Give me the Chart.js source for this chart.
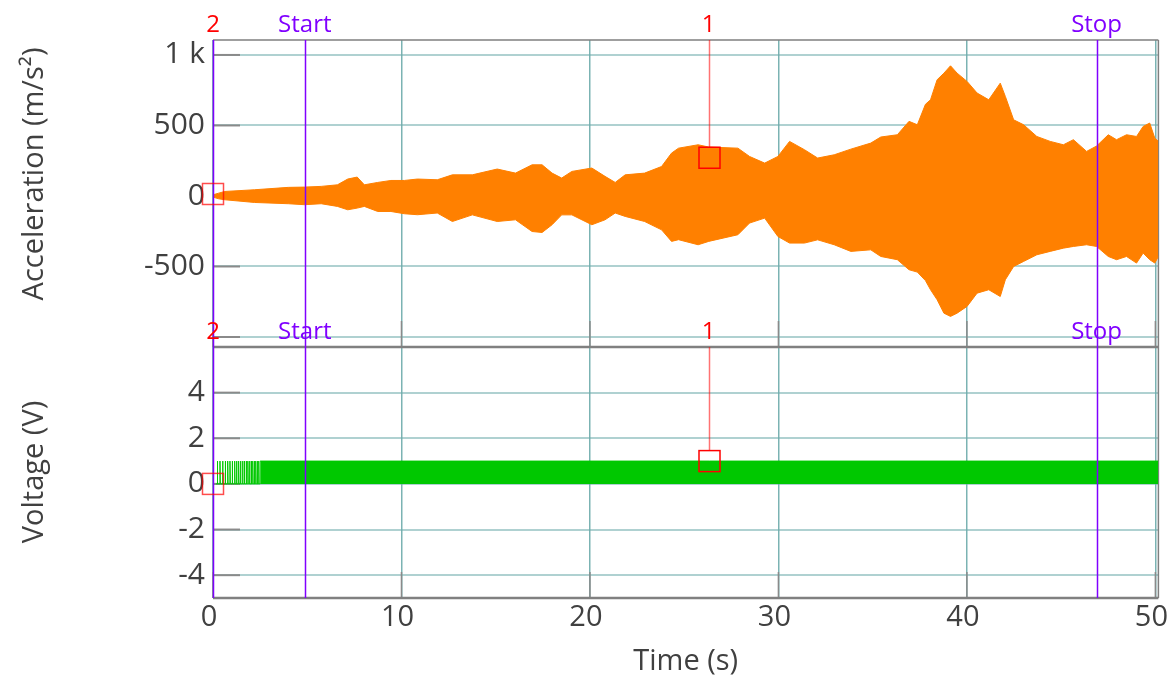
<!DOCTYPE html>
<html>
<head>
<meta charset="utf-8">
<script src="https://cdn.jsdelivr.net/npm/chart.js@4.4.1/dist/chart.umd.min.js"></script>
<style>
html,body{margin:0;padding:0;background:#fff;}
#wrap{position:relative;width:1174px;height:679px;}
</style>
</head>
<body>
<div id="wrap"><canvas id="c" width="1174" height="679"></canvas></div>
<script>
// Acceleration / Voltage vs time, two stacked panels with cursors
const FONT = "'Open Sans', 'Noto Sans', sans-serif";
const TXT = "#404040";
const ORANGE = "#ff8000";
const GREEN = "#00c800";
const PURPLE = "#8000ff";
const RED = "#ff0000";

// acceleration envelope (m/s^2)
const accTime  = [0, 0.3, 0.63, 2.2, 4.0, 4.86, 5.74, 6.6, 7.15, 7.65, 8.03, 8.74, 9.44, 10.15, 10.85, 11.9, 12.7, 13.76, 15.08, 16.05, 16.93, 17.46, 17.99, 18.5, 19.04, 20.1, 20.8, 21.34, 21.87, 22.9, 23.8, 24.33, 24.7, 25.74, 26.3, 27.85, 28.47, 29.27, 29.97, 30.59, 31.38, 32.08, 32.96, 33.84, 34.9, 35.43, 36.31, 36.93, 37.37, 37.8, 38.07, 38.42, 38.78, 39.13, 39.48, 40.01, 40.54, 41.16, 41.77, 42.04, 42.48, 43.01, 43.71, 44.42, 45.12, 45.65, 46.35, 46.88, 47.5, 47.94, 48.47, 49.0, 49.35, 49.7, 49.97, 50.16];
const accUpper = [8, 20, 32, 44, 61, 63, 68, 79, 120, 134, 79, 96, 110, 110, 120, 115, 150, 150, 191, 162, 221, 221, 162, 127, 174, 198, 139, 96, 150, 162, 209, 304, 339, 363, 347, 339, 280, 233, 280, 387, 328, 269, 292, 332, 375, 418, 434, 529, 505, 650, 682, 824, 871, 923, 871, 812, 730, 682, 800, 706, 540, 505, 422, 387, 363, 399, 316, 354, 434, 399, 434, 422, 493, 517, 410, 387];
const accLower = [-8, -20, -27, -46, -55, -62, -55, -74, -98, -86, -74, -110, -110, -126, -133, -121, -181, -134, -181, -169, -252, -259, -204, -134, -134, -204, -169, -121, -145, -181, -240, -322, -310, -346, -322, -275, -192, -157, -287, -334, -334, -311, -346, -393, -382, -429, -452, -523, -540, -600, -665, -736, -831, -854, -831, -783, -689, -665, -713, -594, -500, -464, -417, -393, -370, -358, -346, -358, -429, -452, -429, -476, -405, -452, -476, -429];

// voltage: single spikes at the start, then a dense 0..1 V band
const pulseTimes = [0.23, 0.37, 0.51, 0.65, 0.78, 0.90, 1.02, 1.15, 1.25, 1.36, 1.46, 1.57, 1.66, 1.76, 1.85, 1.94, 2.03, 2.11, 2.20, 2.27, 2.36, 2.43];
const bandTime = [2.5, 50.16];
const bandHigh = 1;
const bandLow = 0;

const xTicks = [0, 10, 20, 30, 40, 50];
const accTicks = [-1000, -500, 0, 500, 1000];
const voltTicks = [-4, -2, 0, 2, 4];

// cursors
const cursorStart = 4.87, cursorStop = 46.88;
const cursor1 = {t: 26.3, acc: 271, volt: 1};
const cursor2 = {t: 0.0, acc: 14, volt: 0};

const pulseData = [{x: 0.15, y: 0}];
pulseTimes.forEach(function(t){ pulseData.push({x:t,y:0},{x:t,y:1},{x:t+0.02,y:0}); });
pulseData.push({x: bandTime[0], y: 0});

function setTicks(list){ return function(s){ s.ticks = list.map(function(v){ return {value:v}; }); }; }

const overlay = {
  id: "overlay",
  beforeDatasetsDraw(chart){
    const ctx = chart.ctx, ca = chart.chartArea;
    const x = chart.scales.x, yA = chart.scales.yA, yV = chart.scales.yV;
    ctx.save();
    // inner tick marks
    ctx.strokeStyle = "#8a8a8a"; ctx.lineWidth = 2;
    [[yA, accTicks], [yV, voltTicks]].forEach(function(p){
      p[1].forEach(function(v){
        const py = p[0].getPixelForValue(v);
        ctx.beginPath(); ctx.moveTo(ca.left, py); ctx.lineTo(ca.left + 27, py); ctx.stroke();
      });
    });
    ctx.lineWidth = 1.5;
    xTicks.forEach(function(v){
      const px = x.getPixelForValue(v);
      [yA.bottom, yV.bottom].forEach(function(b){
        ctx.beginPath(); ctx.moveTo(px, b); ctx.lineTo(px, b - 26); ctx.stroke();
      });
    });
    // frame
    ctx.strokeStyle = "#808080"; ctx.lineWidth = 1.5;
    ctx.beginPath();
    ctx.moveTo(ca.left, ca.top); ctx.lineTo(ca.right, ca.top);
    ctx.moveTo(ca.right, ca.top); ctx.lineTo(ca.right, ca.bottom);
    ctx.stroke();
    ctx.lineWidth = 2.5;
    ctx.beginPath();
    ctx.moveTo(ca.left, yA.bottom); ctx.lineTo(ca.right, yA.bottom);
    ctx.moveTo(ca.left, ca.bottom); ctx.lineTo(ca.right, ca.bottom);
    ctx.stroke();
    ctx.restore();
  },
  afterDatasetsDraw(chart){
    const ctx = chart.ctx, ca = chart.chartArea;
    const x = chart.scales.x, yA = chart.scales.yA, yV = chart.scales.yV;
    ctx.save();
    // purple start/stop lines and left cursor line
    ctx.strokeStyle = PURPLE; ctx.lineWidth = 1.5;
    [cursor2.t, cursorStart, cursorStop].forEach(function(t){
      const px = Math.round(x.getPixelForValue(t)) + 0.5;
      ctx.beginPath(); ctx.moveTo(px, ca.top); ctx.lineTo(px, ca.bottom); ctx.stroke();
    });
    // cursor 1 stems
    const c1x = Math.round(x.getPixelForValue(cursor1.t)) + 0.5;
    const bh = 10.5;
    ctx.strokeStyle = "rgba(255,0,0,0.55)"; ctx.lineWidth = 1.5;
    ctx.beginPath();
    ctx.moveTo(c1x, yA.top); ctx.lineTo(c1x, yA.getPixelForValue(cursor1.acc) - bh);
    ctx.moveTo(c1x, yV.top); ctx.lineTo(c1x, yV.getPixelForValue(cursor1.volt) - bh);
    ctx.stroke();
    // boxes
    function box(px, py, col){
      ctx.strokeStyle = col; ctx.lineWidth = 1.5;
      ctx.strokeRect(px - bh, py - bh, bh * 2, bh * 2);
    }
    box(c1x, yA.getPixelForValue(cursor1.acc), RED);
    box(c1x, yV.getPixelForValue(cursor1.volt), RED);
    const c2x = x.getPixelForValue(cursor2.t);
    box(c2x, yA.getPixelForValue(cursor2.acc), "rgba(255,0,0,0.7)");
    box(c2x, yV.getPixelForValue(cursor2.volt), "rgba(255,0,0,0.7)");
    // cursor labels
    ctx.font = "24px " + FONT; ctx.textAlign = "center"; ctx.textBaseline = "middle";
    const labs = [["2", cursor2.t, RED], ["Start", cursorStart, PURPLE], ["1", cursor1.t, RED], ["Stop", cursorStop, PURPLE]];
    [yA.top - 15, yV.top - 15].forEach(function(ly){
      labs.forEach(function(l){
        ctx.fillStyle = l[2];
        ctx.fillText(l[0], x.getPixelForValue(l[1]), ly);
      });
    });
    // y axis titles
    ctx.fillStyle = TXT; ctx.font = "29px " + FONT;
    ctx.save(); ctx.translate(35, 174); ctx.rotate(-Math.PI / 2); ctx.fillText("Acceleration (m/s\u00b2)", 0, 0); ctx.restore();
    ctx.save(); ctx.translate(35, 472); ctx.rotate(-Math.PI / 2); ctx.fillText("Voltage (V)", 0, 0); ctx.restore();
    ctx.restore();
  }
};

const hGrid = {color: "rgba(110,172,172,0.55)", lineWidth: 2, drawTicks: false};

new Chart(document.getElementById("c"), {
  type: "line",
  data: {datasets: [
    {data: accTime.map(function(t,i){ return {x:t, y:accUpper[i]}; }), yAxisID: "yA", borderColor: ORANGE, backgroundColor: ORANGE, borderWidth: 1, pointRadius: 0, fill: "+1"},
    {data: accTime.map(function(t,i){ return {x:t, y:accLower[i]}; }), yAxisID: "yA", borderColor: ORANGE, borderWidth: 1, pointRadius: 0, fill: false},
    {data: bandTime.map(function(t){ return {x:t, y:bandHigh}; }), yAxisID: "yV", borderColor: GREEN, backgroundColor: GREEN, borderWidth: 1, pointRadius: 0, fill: {value: bandLow}},
    {data: pulseData, yAxisID: "yV", borderColor: GREEN, borderWidth: 1, pointRadius: 0, fill: false}
  ]},
  options: {
    responsive: false, animation: false, events: [],
    layout: {padding: {top: 40, right: 12, left: 0, bottom: 0}},
    plugins: {legend: {display: false}, tooltip: {enabled: false}},
    scales: {
      x: {
        type: "linear", min: 0, max: 50.16,
        afterBuildTicks: setTicks(xTicks),
        afterFit: function(s){ s.height = 81; },
        border: {display: false},
        grid: {color: "rgba(90,160,160,0.8)", lineWidth: 1.5, drawTicks: false},
        ticks: {color: TXT, font: {family: FONT, size: 29}, padding: 2, labelOffset: -4, maxRotation: 0, autoSkip: false},
        title: {display: true, text: "Time (s)", color: TXT, font: {family: FONT, size: 29}, padding: {top: 0, bottom: 0}}
      },
      yV: {
        type: "linear", position: "left", stack: "p", stackWeight: 251, min: -5, max: 6,
        afterBuildTicks: setTicks(voltTicks),
        afterFit: function(s){ s.width = 213; },
        border: {display: false},
        grid: hGrid,
        ticks: {color: TXT, font: {family: FONT, size: 30}, padding: 8, autoSkip: false}
      },
      yA: {
        type: "linear", position: "left", stack: "p", stackWeight: 307, min: -1071, max: 1106,
        afterBuildTicks: setTicks(accTicks),
        afterFit: function(s){ s.width = 213; },
        border: {display: false},
        grid: hGrid,
        ticks: {color: TXT, font: {family: FONT, size: 30}, padding: 8, autoSkip: false,
          callback: function(v){ return v === 1000 ? "1 k" : (v === -1000 ? "" : String(v)); }}
      }
    }
  },
  plugins: [overlay]
});
</script>
</body>
</html>
